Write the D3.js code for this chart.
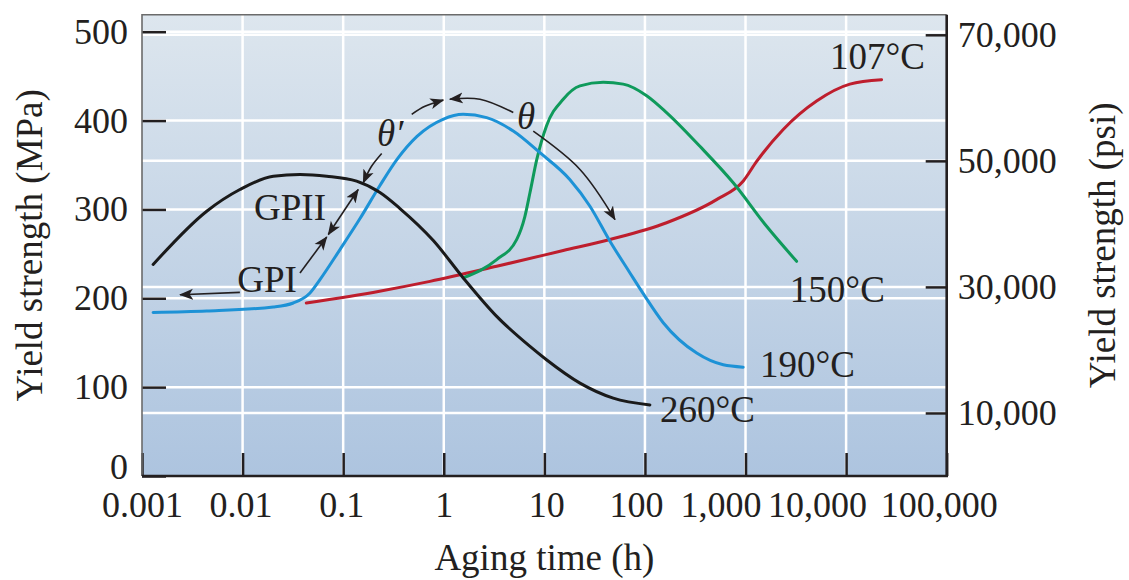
<!doctype html>
<html lang="en">
<head>
	<meta charset="UTF-8">
	<title>aging curves | d3</title>
	<style>
		body { margin: 0; background: #fff; }
		text { font-family: 'Liberation Serif', 'Times New Roman', serif; fill: #231f20; }
	</style>
</head>
<body>
	<script src="https://d3js.org/d3.v7.min.js"></script>
	<script>
		// tick values + labels
		var timeTicks = [0.001, 0.01, 0.1, 1, 10, 100, 1000, 10000, 100000],
			timeTickLabels = ['0.001', '0.01', '0.1', '1', '10', '100', '1,000', '10,000', '100,000'],
			mpaTicks = [0, 100, 200, 300, 400, 500],
			psiTicks = [10000, 30000, 50000, 70000],
			psiTickLabels = ['10,000', '30,000', '50,000', '70,000'];

		// [aging time (h), yield strength (MPa)]
		var curve260 = [[0.00129, 238], [0.0044, 298], [0.0094, 322.4], [0.0202, 337.4],
			[0.0372, 339.3], [0.0686, 337.4], [0.136, 331.8], [0.232, 319], [0.367, 301], [0.787, 265],
			[1.56, 223], [3.36, 179.6], [7.2, 145.8], [10.5, 130.8], [22.6, 104.5], [48.4, 87.6], [112, 80]];
		var curve190 = [[0.00129, 184.1], [0.0044, 185.7], [0.0202, 190.2], [0.0319, 194.7], [0.0468, 206],
			[0.0588, 221], [0.0929, 254.8], [0.147, 289.7], [0.232, 326.9], [0.343, 356.3], [0.542, 382.2],
			[0.982, 401.4], [1.56, 407], [2.67, 403.3], [4.91, 388.2], [9.04, 363.8], [17.9, 333.7],
			[28.4, 303.6], [44.9, 264.2], [71, 228.5], [96.2, 205.2], [152, 172.5], [327, 138.3],
			[600, 125.1], [948, 122.5]];
		var curve150 = [[1.56, 223], [3.36, 243.5], [5.3, 266], [6.4, 292], [7.2, 319], [8.4, 356], [10.5, 394],
			[15.4, 424], [22.6, 439], [38.5, 443], [60.8, 441], [104, 428], [164, 409], [352, 371],
			[755, 330], [1620, 281], [3220, 241.6]];
		var curve107 = [[0.043, 194.7], [0.23, 208], [0.73, 219], [3.36, 236], [15.4, 253.7], [44.9, 266.2],
			[164, 285], [515, 311], [950, 332], [1290, 354], [2370, 390], [5090, 422], [10900, 441], [22500, 446]];

		var seriesNames = ['260°C', '190°C', '150°C', '107°C'];

		var w = 1129,
			h = 580,
			plotLeft = 142,
			plotRight = 946.7,
			plotTop = 14.7,
			plotBottom = 476;

		var svg = d3.select('body')
			.append('svg')
			.attr('width', w)
			.attr('height', h);

		var xScale, yScale, psiScale;

		var initScales = function() {
			xScale = d3.scaleLog()
				.domain([0.001, 100000])
				.range([plotLeft, plotRight]);
			yScale = d3.scaleLinear()
				.domain([0, 500])
				.range([plotBottom, 31.7]);
			psiScale = d3.scaleLinear()
				.domain([0, 70000])
				.range([plotBottom, 34.8]);
		};

		var drawBackground = function() {
			var grad = svg.append('defs').append('linearGradient')
				.attr('id', 'bg')
				.attr('x1', 0).attr('y1', 0).attr('x2', 0).attr('y2', 1);
			grad.append('stop').attr('offset', '0%').attr('stop-color', '#dde6ee');
			grad.append('stop').attr('offset', '100%').attr('stop-color', '#adc4df');

			svg.append('rect')
				.attr('x', plotLeft)
				.attr('y', plotTop)
				.attr('width', plotRight - plotLeft)
				.attr('height', plotBottom - plotTop)
				.attr('fill', 'url(#bg)');

			// white grid, both left and right units
			var grid = svg.append('g').attr('stroke', '#fff').attr('stroke-width', 2.5);
			grid.selectAll('line.h1')
				.data(mpaTicks.filter(function(d) { return d > 0; }))
				.enter().append('line')
				.attr('x1', plotLeft).attr('x2', plotRight)
				.attr('y1', function(d) { return yScale(d); })
				.attr('y2', function(d) { return yScale(d); });
			grid.selectAll('line.h2')
				.data(psiTicks)
				.enter().append('line')
				.attr('x1', plotLeft).attr('x2', plotRight)
				.attr('y1', function(d) { return psiScale(d); })
				.attr('y2', function(d) { return psiScale(d); });
			grid.selectAll('line.v')
				.data(timeTicks.slice(1, -1))
				.enter().append('line')
				.attr('y1', plotTop).attr('y2', plotBottom)
				.attr('x1', function(d) { return xScale(d); })
				.attr('x2', function(d) { return xScale(d); });
		};

		var styleAxis = function(g) {
			g.select('.domain').remove();
			g.selectAll('.tick line').attr('stroke', '#231f20').attr('stroke-width', 2.5);
			g.selectAll('.tick text')
				.attr('font-family', "'Liberation Serif', 'Times New Roman', serif")
				.attr('font-size', 36)
				.attr('fill', '#231f20');
			g.attr('font-family', null).attr('font-size', null);
		};

		var drawAxes = function() {
			var yAxis = d3.axisLeft(yScale)
				.tickValues(mpaTicks)
				.tickSize(-24)
				.tickPadding(14);
			svg.append('g')
				.attr('transform', 'translate(' + plotLeft + ',0)')
				.call(yAxis)
				.call(styleAxis)
				.selectAll('.tick text')
				.attr('dy', function(d) { return d === 0 ? '0.07em' : '0.32em'; });

			var psiAxis = d3.axisRight(psiScale)
				.tickValues(psiTicks)
				.tickSize(-21)
				.tickPadding(11)
				.tickFormat(function(d, i) { return psiTickLabels[i]; });
			svg.append('g')
				.attr('transform', 'translate(' + plotRight + ',0)')
				.call(psiAxis)
				.call(styleAxis);

			// the long labels on the right sit a little left of their ticks
			var labelShift = [0, -2, -2, 0, 2, -9, -25, -29, -8];
			var xAxis = d3.axisBottom(xScale)
				.tickValues(timeTicks)
				.tickSize(-23)
				.tickPadding(15)
				.tickFormat(function(d, i) { return timeTickLabels[i]; });
			svg.append('g')
				.attr('transform', 'translate(0,' + plotBottom + ')')
				.call(xAxis)
				.call(styleAxis)
				.selectAll('.tick text')
				.attr('dx', function(d, i) { return labelShift[i]; });

			// frame
			svg.append('path')
				.attr('d', 'M' + plotLeft + ',' + plotBottom + 'V' + plotTop + 'H' + plotRight)
				.attr('fill', 'none').attr('stroke', '#6b6b6b').attr('stroke-width', 1.6);
			svg.append('path')
				.attr('d', 'M' + plotLeft + ',' + plotBottom + 'H' + plotRight + 'V' + plotTop)
				.attr('fill', 'none').attr('stroke', '#231f20').attr('stroke-width', 2.6);

			// titles
			svg.append('text')
				.attr('x', (plotLeft + plotRight) / 2)
				.attr('y', 570)
				.attr('text-anchor', 'middle')
				.attr('font-size', 37)
				.text('Aging time (h)');
			svg.append('text')
				.attr('transform', 'translate(42,' + (plotTop + plotBottom) / 2 + ') rotate(-90)')
				.attr('text-anchor', 'middle')
				.attr('font-size', 37)
				.text('Yield strength (MPa)');
			svg.append('text')
				.attr('transform', 'translate(1115,' + (plotTop + plotBottom) / 2 + ') rotate(-90)')
				.attr('text-anchor', 'middle')
				.attr('font-size', 37)
				.text('Yield strength (psi)');
		};

		var drawGraph = function() {
			var line = d3.line()
				.x(function(d) { return xScale(d[0]); })
				.y(function(d) { return yScale(d[1]); })
				.curve(d3.curveMonotoneX);

			var series = [
				{ data: curve107, color: '#be1e2d' },
				{ data: curve150, color: '#0f9a5b' },
				{ data: curve190, color: '#1d92d6' },
				{ data: curve260, color: '#1a1a1a' }
			];

			svg.append('g').selectAll('path')
				.data(series)
				.enter()
				.append('path')
				.attr('d', function(d) { return line(d.data); })
				.attr('fill', 'none')
				.attr('stroke', function(d) { return d.color; })
				.attr('stroke-width', 3)
				.attr('stroke-linecap', 'round');

			// curve names, anchored in data units
			var nameAt = [[141, 61], [1390, 111.6], [2760, 196], [6900, 457.7]];
			svg.append('g').selectAll('text')
				.data(seriesNames)
				.enter()
				.append('text')
				.attr('x', function(d, i) { return xScale(nameAt[i][0]); })
				.attr('y', function(d, i) { return yScale(nameAt[i][1]); })
				.attr('font-size', 37)
				.text(function(d) { return d; });
		};

		var drawNotes = function() {
			svg.select('defs').append('marker')
				.attr('id', 'head')
				.attr('markerUnits', 'userSpaceOnUse')
				.attr('viewBox', '0 -6 14 12')
				.attr('refX', 13).attr('refY', 0)
				.attr('markerWidth', 14).attr('markerHeight', 12)
				.attr('orient', 'auto-start-reverse')
				.append('path')
				.attr('d', 'M0,-5.5L14,0L0,5.5L3.5,0Z')
				.attr('fill', '#231f20');

			var aline = d3.line()
				.x(function(d) { return xScale(d[0]); })
				.y(function(d) { return yScale(d[1]); })
				.curve(d3.curveCatmullRom.alpha(0.5));

			var arrows = [
				{ pts: [[0.0094, 206.6], [0.00239, 204]], both: false },
				{ pts: [[0.0372, 228.5], [0.0686, 269]], both: false },
				{ pts: [[0.0711, 271.7], [0.141, 322.4]], both: true },
				{ pts: [[0.2415, 363], [0.19, 348], [0.1585, 330]], both: false },
				{ pts: [[0.48, 407], [0.65, 416], [0.989, 423]], both: false },
				{ pts: [[4.91, 409], [2.29, 424], [1.15, 424]], both: false },
				{ pts: [[7.76, 388], [22.6, 345], [50.4, 288.6]], both: false }
			];

			svg.append('g').selectAll('path')
				.data(arrows)
				.enter()
				.append('path')
				.attr('d', function(d) { return aline(d.pts); })
				.attr('fill', 'none')
				.attr('stroke', '#231f20')
				.attr('stroke-width', 1.6)
				.attr('marker-end', 'url(#head)')
				.attr('marker-start', function(d) { return d.both ? 'url(#head)' : null; });

			var notes = [
				{ t: 'GPI', at: [0.0175, 207], anchor: 'middle', italic: false },
				{ t: 'GPII', at: [0.0296, 288.6], anchor: 'middle', italic: false },
				{ t: 'θ′', at: [0.217, 371], anchor: 'start', italic: true },
				{ t: 'θ', at: [5.35, 390], anchor: 'start', italic: true }
			];
			svg.append('g').selectAll('text')
				.data(notes)
				.enter()
				.append('text')
				.attr('x', function(d) { return xScale(d.at[0]); })
				.attr('y', function(d) { return yScale(d.at[1]); })
				.attr('text-anchor', function(d) { return d.anchor; })
				.attr('font-style', function(d) { return d.italic ? 'italic' : null; })
				.attr('font-size', 37)
				.text(function(d) { return d.t; });
		};

		initScales();
		drawBackground();
		drawAxes();
		drawGraph();
		drawNotes();
	</script>
</body>
</html>
